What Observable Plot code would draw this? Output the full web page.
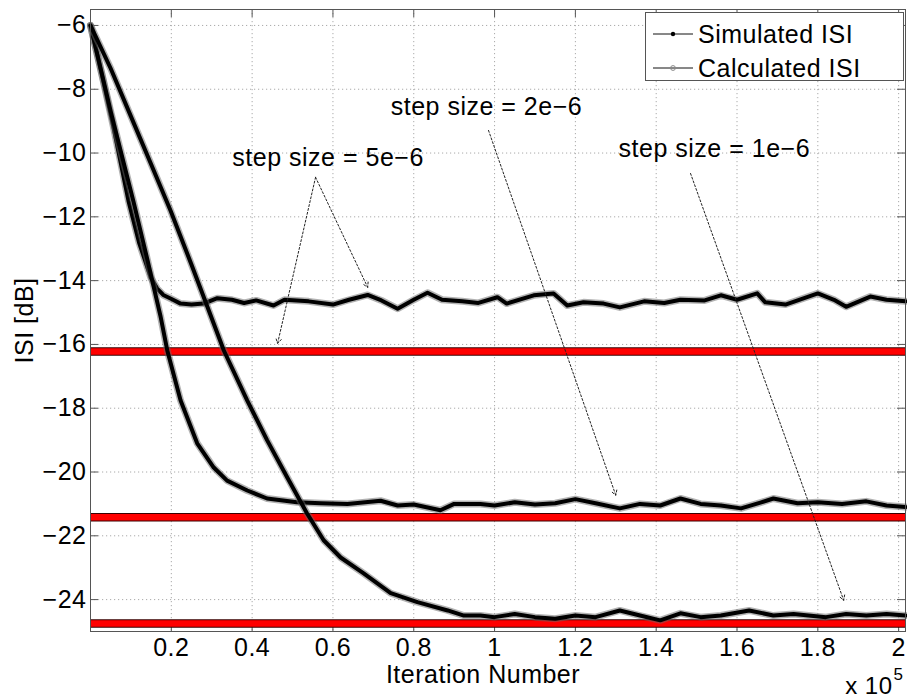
<!DOCTYPE html>
<html>
<head>
<meta charset="utf-8">
<script src="https://cdn.jsdelivr.net/npm/d3@7"></script>
<script src="https://cdn.jsdelivr.net/npm/@observablehq/plot@0.6"></script>
<style>
  html, body { margin: 0; padding: 0; background: #fff; }
  #wrap { position: relative; width: 907px; height: 699px; overflow: hidden; font-family: "Liberation Sans", Arial, Helvetica, sans-serif; }
  #legend { position: absolute; left: 645px; top: 12px; width: 259px; height: 69px; background: #fff; border: 1px solid #555; box-sizing: border-box; }
  .lg-row { position: absolute; left: 0; height: 30px; display: flex; align-items: center; font-size: 25px; letter-spacing: 0.5px; color: #000; }
  .lg-row svg { margin-left: 7px; margin-right: 5px; }
</style>
</head>
<body>
<div id="wrap"></div>
<script>
// Iteration number in units of 1e5
const simX_5e6 = [0, 0.03, 0.057, 0.094, 0.12, 0.149, 0.165, 0.18, 0.198, 0.223, 0.25, 0.28, 0.314, 0.35, 0.38, 0.41, 0.453, 0.48, 0.54, 0.6, 0.64, 0.686, 0.72, 0.76, 0.8, 0.834, 0.87, 0.92, 0.96, 1.007, 1.03, 1.097, 1.146, 1.18, 1.22, 1.27, 1.31, 1.37, 1.42, 1.46, 1.52, 1.56, 1.6, 1.65, 1.67, 1.72, 1.8, 1.84, 1.87, 1.93, 1.97, 2.017];
const simY_5e6 = [-6, -7.65, -9.2, -11.5, -12.8, -13.9, -14.25, -14.45, -14.56, -14.72, -14.75, -14.72, -14.55, -14.6, -14.7, -14.62, -14.78, -14.6, -14.65, -14.75, -14.6, -14.45, -14.62, -14.88, -14.6, -14.38, -14.6, -14.65, -14.7, -14.52, -14.72, -14.46, -14.4, -14.78, -14.68, -14.72, -14.84, -14.65, -14.7, -14.6, -14.62, -14.46, -14.6, -14.4, -14.68, -14.75, -14.4, -14.6, -14.82, -14.5, -14.6, -14.65];

const simX_2e6 = [0, 0.05, 0.106, 0.14, 0.173, 0.19, 0.223, 0.264, 0.305, 0.338, 0.388, 0.437, 0.511, 0.57, 0.636, 0.68, 0.718, 0.76, 0.8, 0.866, 0.9, 0.965, 1.0, 1.05, 1.1, 1.15, 1.2, 1.25, 1.31, 1.36, 1.41, 1.46, 1.51, 1.56, 1.61, 1.66, 1.69, 1.75, 1.8, 1.86, 1.92, 1.97, 2.017];
const simY_2e6 = [-6, -8.7, -11.5, -13.3, -15.1, -16.19, -17.76, -19.1, -19.86, -20.27, -20.58, -20.83, -20.95, -20.98, -21.0, -20.95, -20.9, -21.05, -21.02, -21.2, -21.0, -21.0, -21.05, -20.95, -21.02, -20.98, -20.85, -20.98, -21.14, -21.0, -21.05, -20.83, -21.0, -21.05, -21.14, -20.95, -20.83, -20.98, -20.95, -21.0, -20.92, -21.05, -21.1];

const simX_1e6 = [0, 0.05, 0.1, 0.15, 0.198, 0.25, 0.29, 0.33, 0.388, 0.437, 0.487, 0.536, 0.577, 0.619, 0.676, 0.743, 0.809, 0.884, 0.924, 0.965, 1.0, 1.05, 1.1, 1.15, 1.2, 1.25, 1.31, 1.36, 1.41, 1.46, 1.51, 1.56, 1.63, 1.69, 1.74, 1.82, 1.87, 1.92, 1.97, 2.017];
const simY_1e6 = [-6, -7.35, -8.85, -10.35, -11.8, -13.5, -14.84, -16.19, -17.76, -19.0, -20.17, -21.3, -22.14, -22.68, -23.18, -23.8, -24.08, -24.34, -24.5, -24.5, -24.55, -24.45, -24.55, -24.6, -24.5, -24.55, -24.34, -24.5, -24.65, -24.43, -24.55, -24.5, -24.34, -24.5, -24.45, -24.55, -24.45, -24.5, -24.45, -24.5];

// Calculated ISI for step sizes 5e-6, 2e-6, 1e-6
const calcISI = [-16.22, -21.42, -24.75];

const xTicks = [0.2, 0.4, 0.6, 0.8, 1, 1.2, 1.4, 1.6, 1.8, 2];
const yTicks = [-24, -22, -20, -18, -16, -14, -12, -10, -8, -6];

const annLabels = ["step size = 5e\u22126", "step size = 2e\u22126", "step size = 1e\u22126"];
const annLabelX = [0.351, 0.743, 1.307];
const annLabelY = [-10.17, -8.57, -9.86];

const arrowX1 = [0.557, 0.557, 0.985, 1.485];
const arrowY1 = [-10.76, -10.76, -9.29, -10.64];
const arrowX2 = [0.463, 0.686, 1.300, 1.864];
const arrowY2 = [-15.97, -14.21, -20.73, -24.02];

const legendLabels = ["Simulated ISI", "Calculated ISI"];

const toRows = (xs, ys) => xs.map((x, i) => ({x, y: ys[i]}));
const sims = [toRows(simX_5e6, simY_5e6), toRows(simX_2e6, simY_2e6), toRows(simX_1e6, simY_1e6)];
const labels = annLabels.map((t, i) => ({t, x: annLabelX[i], y: annLabelY[i]}));
const arrows = arrowX1.map((x1, i) => ({x1, y1: arrowY1[i], x2: arrowX2[i], y2: arrowY2[i]}));

const W = 907, H = 699, mL = 90, mR = 2, mT = 9, mB = 68;
const pw = W - mL - mR, ph = H - mT - mB;
const font = "Liberation Sans, Arial, Helvetica, sans-serif";
const FS = 25;

const marks = [
  Plot.gridX(xTicks, {stroke: "#aaa", strokeOpacity: 1, strokeDasharray: "1.2,2.8"}),
  Plot.gridY(yTicks, {stroke: "#aaa", strokeOpacity: 1, strokeDasharray: "1.2,2.8"}),
  Plot.tickY(yTicks, {y: d => d, insetRight: pw - 8, stroke: "#555"}),
  Plot.tickY(yTicks, {y: d => d, insetLeft: pw - 8, stroke: "#555"}),
  Plot.tickX(xTicks, {x: d => d, insetTop: ph - 8, stroke: "#555"}),
  Plot.tickX(xTicks, {x: d => d, insetBottom: ph - 8, stroke: "#555"}),
  Plot.ruleY(calcISI, {stroke: "#3a0000", strokeWidth: 8.5}),
  Plot.ruleY(calcISI, {stroke: "#ff0000", strokeWidth: 6.5}),
];
for (const s of sims) {
  marks.push(Plot.line(s, {x: "x", y: "y", stroke: "#666", strokeWidth: 7, strokeOpacity: 0.5, curve: "linear"}));
  marks.push(Plot.line(s, {x: "x", y: "y", stroke: "#000", strokeWidth: 4, curve: "linear"}));
}
marks.push(
  Plot.arrow(arrows, {x1: "x1", y1: "y1", x2: "x2", y2: "y2", stroke: "#222", strokeWidth: 1, strokeDasharray: "2,2", headLength: 8, bend: 0}),
  Plot.text(labels, {x: "x", y: "y", text: "t", textAnchor: "start", lineAnchor: "middle", fontSize: FS, fill: "#000"}),
  Plot.frame({stroke: "#555", strokeWidth: 1}),
  Plot.axisY(yTicks, {tickSize: 0, tickPadding: 4, fontSize: FS, label: null, tickFormat: d => d.toString().replace("-", "\u2212")}),
  Plot.axisX(xTicks, {tickSize: 0, tickPadding: 7, fontSize: FS, label: null, tickFormat: d => (d === 1 || d === 2) ? String(d) : d.toFixed(1)}),
  Plot.text(["ISI [dB]"], {frameAnchor: "left", dx: -66, rotate: -90, textAnchor: "middle", lineAnchor: "middle", fontSize: FS, fill: "#000"}),
  Plot.text(["Iteration Number"], {frameAnchor: "bottom", dx: -15, dy: 43, textAnchor: "middle", lineAnchor: "middle", fontSize: FS, fill: "#000"}),
  Plot.text(["x 10"], {frameAnchor: "bottom-right", dx: -13, dy: 55, textAnchor: "end", lineAnchor: "middle", fontSize: 24, fill: "#000"}),
  Plot.text(["5"], {frameAnchor: "bottom-right", dx: -12, dy: 43, textAnchor: "start", lineAnchor: "middle", fontSize: 17, fill: "#000"})
);

const chart = Plot.plot({
  width: W, height: H,
  marginLeft: mL, marginRight: mR, marginTop: mT, marginBottom: mB,
  style: {fontFamily: font, background: "#fff", color: "#000", overflow: "visible", letterSpacing: "0.5px"},
  x: {domain: [0, 2.017]},
  y: {domain: [-25, -5.5]},
  marks
});

const wrap = document.getElementById("wrap");
wrap.appendChild(chart);

// Legend
const legend = document.createElement("div");
legend.id = "legend";
const markerSvg = (kind) => {
  const m = kind === 0
    ? `<circle cx="20" cy="8" r="2.2" fill="#000"/>`
    : `<circle cx="20" cy="8" r="2.4" fill="none" stroke="#888" stroke-width="1"/>`;
  return `<svg width="40" height="16"><line x1="0" y1="8" x2="40" y2="8" stroke="#111" stroke-width="1"/>${m}</svg>`;
};
legendLabels.forEach((lab, i) => {
  const row = document.createElement("div");
  row.className = "lg-row";
  row.style.top = (i === 0 ? 6 : 40) + "px";
  row.innerHTML = markerSvg(i) + `<span>${lab}</span>`;
  legend.appendChild(row);
});
wrap.appendChild(legend);
</script>
</body>
</html>
